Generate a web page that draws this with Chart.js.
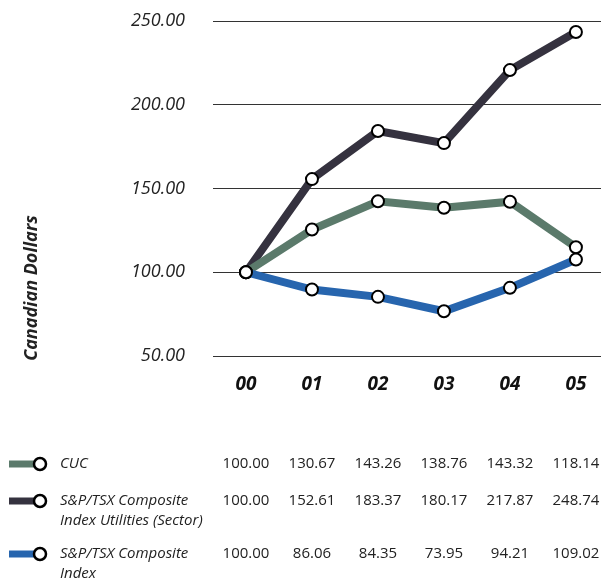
<!DOCTYPE html>
<html>
<head>
<meta charset="utf-8">
<script src="https://cdn.jsdelivr.net/npm/chart.js@4/dist/chart.umd.min.js"></script>
<style>
  html, body { margin: 0; padding: 0; background: #fff; }
  #wrap { width: 601px; height: 579px; }
</style>
</head>
<body>
<div id="wrap"><canvas id="chart" width="601" height="579"></canvas></div>
<script>
// Années (axe des x)
const years = ['00', '01', '02', '03', '04', '05'];
const yTicks = [50, 100, 150, 200, 250];

// Valeurs (position des points)
const cucPoints = [100, 125.5, 142.4, 138.5, 142.1, 114.9];
const utilitiesPoints = [100, 155.6, 184.3, 177.1, 220.7, 243.4];
const indexPoints = [100, 89.7, 85.3, 76.7, 90.7, 107.6];

// Valeurs du tableau sous le graphique
const cucTable = ['100.00', '130.67', '143.26', '138.76', '143.32', '118.14'];
const utilitiesTable = ['100.00', '152.61', '183.37', '180.17', '217.87', '248.74'];
const indexTable = ['100.00', '86.06', '84.35', '73.95', '94.21', '109.02'];

const seriesLabels = [
  ['CUC'],
  ['S&P/TSX Composite', 'Index Utilities (Sector)'],
  ['S&P/TSX Composite', 'Index']
];
const seriesColors = ['#5b7a6b', '#35323f', '#2765ae'];

const toXY = arr => arr.map((v, i) => ({ x: i, y: v }));

// Plugin pour le titre de l'axe y et le tableau du bas
const extras = {
  id: 'extras',
  afterDraw(chart) {
    const ctx = chart.ctx;
    const xs = chart.scales.x;
    ctx.save();
    // titre vertical
    ctx.fillStyle = '#222';
    ctx.font = 'italic bold 18px "Open Sans"';
    ctx.textAlign = 'center';
    ctx.textBaseline = 'middle';
    ctx.translate(32, 288);
    ctx.rotate(-Math.PI / 2);
    ctx.fillText('Canadian Dollars', 0, 0);
    ctx.restore();

    const rows = [
      { y: 464, values: cucTable },
      { y: 501, values: utilitiesTable },
      { y: 554, values: indexTable }
    ];
    rows.forEach((row, r) => {
      ctx.save();
      // marqueur de légende
      ctx.strokeStyle = seriesColors[r];
      ctx.lineWidth = 7;
      ctx.beginPath();
      ctx.moveTo(9, row.y);
      ctx.lineTo(37, row.y);
      ctx.stroke();
      ctx.beginPath();
      ctx.arc(40, row.y, 6, 0, Math.PI * 2);
      ctx.fillStyle = '#fff';
      ctx.fill();
      ctx.lineWidth = 2.5;
      ctx.strokeStyle = '#000';
      ctx.stroke();
      // libellés
      ctx.fillStyle = '#222';
      ctx.font = 'italic 15px "Open Sans"';
      ctx.textAlign = 'left';
      ctx.textBaseline = 'middle';
      seriesLabels[r].forEach((line, k) => ctx.fillText(line, 60, row.y + k * 20));
      // valeurs
      ctx.font = '15px "Open Sans"';
      ctx.textAlign = 'center';
      row.values.forEach((v, i) => ctx.fillText(v, xs.getPixelForValue(i), row.y));
      ctx.restore();
    });
  }
};

const pointStyle = color => ({
  borderColor: color,
  backgroundColor: color,
  borderWidth: 8,
  pointRadius: 6,
  pointHoverRadius: 6,
  pointBorderWidth: 2,
  pointBorderColor: '#000',
  pointBackgroundColor: '#fff',
  tension: 0,
  clip: false
});

new Chart(document.getElementById('chart').getContext('2d'), {
  type: 'line',
  data: {
    datasets: [
      { label: 'S&P/TSX Composite Index', data: toXY(indexPoints), ...pointStyle(seriesColors[2]) },
      { label: 'CUC', data: toXY(cucPoints), ...pointStyle(seriesColors[0]) },
      { label: 'S&P/TSX Composite Index Utilities (Sector)', data: toXY(utilitiesPoints), ...pointStyle(seriesColors[1]) }
    ]
  },
  options: {
    responsive: false,
    animation: false,
    layout: { autoPadding: false, padding: { top: 21, right: 0, left: 0, bottom: 0 } },
    plugins: { legend: { display: false }, tooltip: { enabled: false } },
    scales: {
      x: {
        type: 'linear',
        bounds: 'data',
        min: -0.5,
        max: 5.38,
        afterBuildTicks: axis => { axis.ticks = years.map((y, i) => ({ value: i })); },
        afterFit: axis => {
          axis.height = 223;
          axis.paddingLeft = 0;
          axis.paddingRight = 0;
        },
        grid: { display: false, drawTicks: false },
        border: { display: false },
        ticks: {
          padding: 17,
          color: '#111',
          font: { family: 'Open Sans', size: 19, style: 'italic', weight: 'bold' },
          callback: v => years[v]
        }
      },
      y: {
        min: 50,
        max: 250,
        afterBuildTicks: axis => { axis.ticks = yTicks.map(v => ({ value: v })); },
        afterFit: axis => {
          axis.width = 213;
          axis.paddingTop = 0;
          axis.paddingBottom = 0;
        },
        grid: { color: '#333', lineWidth: 1, drawTicks: false },
        border: { display: false },
        ticks: {
          padding: 28,
          color: '#222',
          font: { family: 'Open Sans', size: 18, style: 'italic' },
          callback: v => v.toFixed(2)
        }
      }
    }
  },
  plugins: [extras]
});
</script>
</body>
</html>
